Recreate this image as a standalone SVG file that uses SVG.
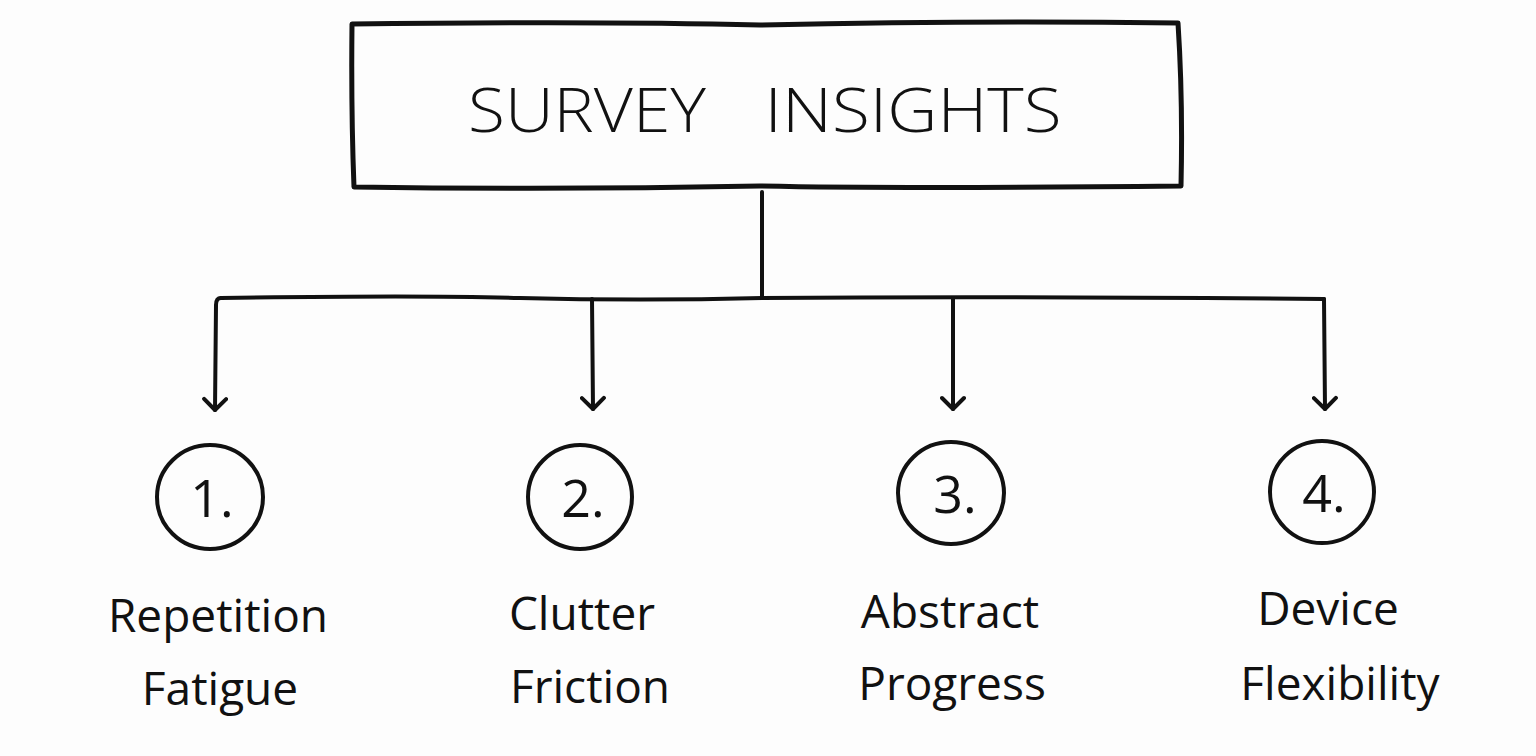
<svg xmlns="http://www.w3.org/2000/svg" width="1536" height="756" viewBox="0 0 1536 756">
<style>
.ln{fill:none;stroke:#111;stroke-width:4;stroke-linecap:round;stroke-linejoin:round}
.bx{fill:none;stroke:#111;stroke-width:5;stroke-linecap:round;stroke-linejoin:round}
.t{font-family:"Open Sans","Liberation Sans",sans-serif;fill:#111;text-anchor:middle}
.ttl{font-size:60px;font-weight:300}
.lab{font-size:46px;font-weight:400}
.num{font-size:52px;font-weight:400}
</style>
<defs>
<marker id="arr" markerWidth="26" markerHeight="26" refX="20" refY="13" orient="auto" markerUnits="userSpaceOnUse" viewBox="0 0 26 26">
<path d="M9 2 L20 13 L9 24" fill="none" stroke="#111" stroke-width="4" stroke-linecap="round" stroke-linejoin="round"/>
</marker>
</defs>
<rect width="1536" height="756" fill="#fdfdfd"/>
<g id="title">
<path class="bx" d="M352 24 Q600 21 760 25 Q980 20 1178 23 Q1183 100 1181 186 Q900 189 760 186 Q560 190 354 187 Q351 110 352 24 Z"/>
<text class="t ttl" x="587" y="132" textLength="238" lengthAdjust="spacingAndGlyphs">SURVEY</text>
<text class="t ttl" x="913" y="132" textLength="297" lengthAdjust="spacingAndGlyphs">INSIGHTS</text>
</g>
<g id="connectors">
<path class="ln" d="M762 192 L762 298"/>
<path class="ln" d="M221 298 Q420 295 520 298 Q640 301 762 298 Q1000 296 1324 299"/>
<path class="ln" d="M221 298 Q216 298 216 305 L215 410" marker-end="url(#arr)"/>
<path class="ln" d="M592 299 L593 409" marker-end="url(#arr)"/>
<path class="ln" d="M953 298 L953 409" marker-end="url(#arr)"/>
<path class="ln" d="M1324 299 L1325 409" marker-end="url(#arr)"/>
</g>
<g id="n1">
<ellipse class="ln" cx="210" cy="497" rx="53" ry="52"/>
<text class="t num" x="212" y="517">1.</text>
<text class="t lab" x="218" y="632">Repetition</text>
<text class="t lab" x="220" y="705">Fatigue</text>
</g>
<g id="n2">
<ellipse class="ln" cx="580" cy="497" rx="52" ry="52"/>
<text class="t num" x="583" y="517">2.</text>
<text class="t lab" x="582" y="630">Clutter</text>
<text class="t lab" x="590" y="703">Friction</text>
</g>
<g id="n3">
<ellipse class="ln" cx="951" cy="493" rx="53" ry="51"/>
<text class="t num" x="955" y="513">3.</text>
<text class="t lab" x="950" y="628">Abstract</text>
<text class="t lab" x="952" y="700">Progress</text>
</g>
<g id="n4">
<ellipse class="ln" cx="1322" cy="492" rx="52" ry="51"/>
<text class="t num" x="1324" y="512">4.</text>
<text class="t lab" x="1328" y="625">Device</text>
<text class="t lab" x="1340" y="700">Flexibility</text>
</g>
</svg>
